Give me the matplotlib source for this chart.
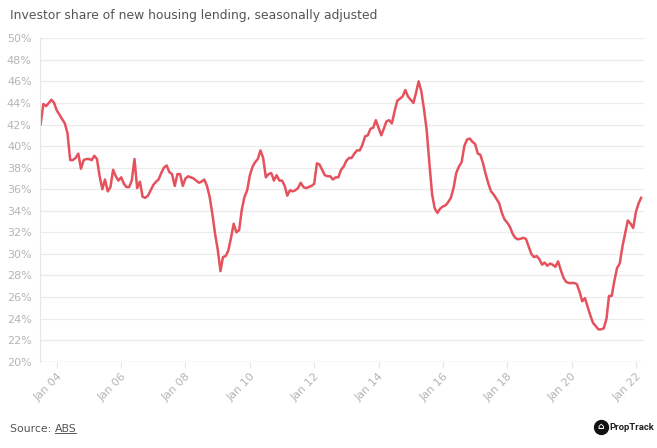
import matplotlib
matplotlib.use("Agg")
import matplotlib.pyplot as plt
import matplotlib.dates as mdates
import pandas as pd

# monthly investor share (%), Jul 2003 - Mar 2022
share_2003 = [42.0, 43.9, 43.7, 44.0, 44.3, 44.0]
share_2004 = [43.3, 42.9, 42.5, 42.1, 41.2, 38.7, 38.7, 38.9, 39.3, 37.9, 38.7, 38.8]
share_2005 = [38.8, 38.7, 39.1, 38.8, 37.2, 36.0, 36.9, 35.8, 36.2, 37.8, 37.2, 36.8]
share_2006 = [37.1, 36.5, 36.2, 36.2, 36.8, 38.8, 36.1, 36.7, 35.3, 35.2, 35.4, 35.9]
share_2007 = [36.4, 36.7, 36.9, 37.5, 38.0, 38.2, 37.6, 37.4, 36.3, 37.4, 37.4, 36.3]
share_2008 = [37.0, 37.2, 37.1, 37.0, 36.8, 36.6, 36.7, 36.9, 36.3, 35.3, 33.7, 31.9]
share_2009 = [30.4, 28.4, 29.7, 29.8, 30.3, 31.5, 32.8, 32.0, 32.2, 34.1, 35.3, 35.9]
share_2010 = [37.3, 38.1, 38.5, 38.8, 39.6, 38.9, 37.1, 37.4, 37.5, 36.8, 37.3, 36.8]
share_2011 = [36.8, 36.3, 35.4, 35.9, 35.8, 35.9, 36.1, 36.6, 36.2, 36.1, 36.2, 36.3]
share_2012 = [36.5, 38.4, 38.3, 37.8, 37.3, 37.2, 37.2, 36.9, 37.1, 37.1, 37.8, 38.1]
share_2013 = [38.65, 38.9, 38.9, 39.3, 39.6, 39.6, 40.1, 40.9, 41.0, 41.6, 41.7, 42.4]
share_2014 = [41.7, 41.0, 41.6, 42.3, 42.4, 42.1, 43.2, 44.2, 44.4, 44.6, 45.2, 44.6]
share_2015 = [44.3, 44.0, 44.9, 46.0, 45.1, 43.4, 41.5, 38.4, 35.5, 34.2, 33.8, 34.2]
share_2016 = [34.4, 34.5, 34.8, 35.2, 36.1, 37.5, 38.1, 38.5, 40.0, 40.6, 40.7, 40.4]
share_2017 = [40.2, 39.3, 39.2, 38.4, 37.4, 36.5, 35.8, 35.5, 35.1, 34.7, 33.8, 33.2]
share_2018 = [32.9, 32.5, 31.9, 31.5, 31.35, 31.4, 31.5, 31.4, 30.7, 30.0, 29.7, 29.8]
share_2019 = [29.5, 29.0, 29.2, 28.9, 29.1, 29.0, 28.8, 29.3, 28.5, 27.8, 27.4, 27.3]
share_2020 = [27.3, 27.3, 27.2, 26.5, 25.6, 25.9, 25.1, 24.3, 23.6, 23.3, 23.0, 23.0]
share_2021 = [23.1, 24.0, 26.1, 26.1, 27.5, 28.7, 29.1, 30.7, 31.9, 33.1, 32.8, 32.4]
share_2022 = [33.9, 34.7, 35.2]

share = (share_2003 + share_2004 + share_2005 + share_2006 + share_2007 + share_2008
         + share_2009 + share_2010 + share_2011 + share_2012 + share_2013 + share_2014
         + share_2015 + share_2016 + share_2017 + share_2018 + share_2019 + share_2020
         + share_2021 + share_2022)
dates = pd.date_range("2003-07-01", periods=len(share), freq="MS")

y_ticks = list(range(20, 51, 2))
x_ticks = pd.date_range("2004-01-01", "2022-01-01", freq="2YS")

grey = "#b5b5b5"
fig = plt.figure(figsize=(6.57, 4.48), dpi=100)
ax = fig.add_axes([0.061, 0.1926, 0.919, 0.722])

ax.plot(dates, share, color="#e5525e", lw=1.8, solid_joinstyle="round")

ax.set_ylim(20, 50)
ax.set_yticks(y_ticks)
ax.set_yticklabels([f"{v}%" for v in y_ticks])
ax.set_xlim(pd.Timestamp("2003-06-25"), pd.Timestamp("2022-04-01"))
ax.set_xticks(x_ticks)
ax.xaxis.set_major_formatter(mdates.DateFormatter("Jan %y"))
for lab in ax.get_xticklabels():
    lab.set_rotation(45)
    lab.set_ha("right")
    lab.set_rotation_mode("anchor")

ax.grid(axis="y", color="#ebebeb", lw=0.9)
ax.set_axisbelow(True)
for side in ["top", "right", "bottom"]:
    ax.spines[side].set_visible(False)
ax.spines["left"].set_color("#e6e6e6")
ax.axhline(20, color="#e6e6e6", lw=1.0, zorder=0)
ax.tick_params(axis="y", length=0, pad=6, labelsize=8, labelcolor=grey)
ax.tick_params(axis="x", length=4, color="#e6e6e6", pad=3, labelsize=8, labelcolor=grey)

fig.text(0.015, 0.966, "Investor share of new housing lending, seasonally adjusted",
         fontsize=8.9, color="#555555", va="center")

# source line, "ABS" underlined right after "Source: "
renderer = fig.canvas.get_renderer()
src = fig.text(0.015, 0.042, "Source: ", fontsize=7.8, color="#555555", va="center")
bb = src.get_window_extent(renderer).transformed(fig.transFigure.inverted())
abs_txt = fig.text(bb.x1, 0.042, "ABS", fontsize=7.8, color="#555555", va="center")
bb2 = abs_txt.get_window_extent(renderer).transformed(fig.transFigure.inverted())
fig.add_artist(plt.Line2D([bb2.x0, bb2.x1], [bb2.y0 + 0.002, bb2.y0 + 0.002],
                          color="#555555", lw=0.7))

# PropTrack logo
fig.add_artist(plt.Line2D([0.9145], [0.046], marker="o", markersize=10,
                          color="#111111", transform=fig.transFigure))
fig.text(0.9145, 0.047, "\u2302", fontsize=6.5, color="white", fontweight="bold",
         ha="center", va="center")
fig.text(0.928, 0.046, "PropTrack", fontsize=6.8, fontweight="bold",
         family="Roboto", color="#222222", va="center")

fig.savefig("out.png", dpi=100)
